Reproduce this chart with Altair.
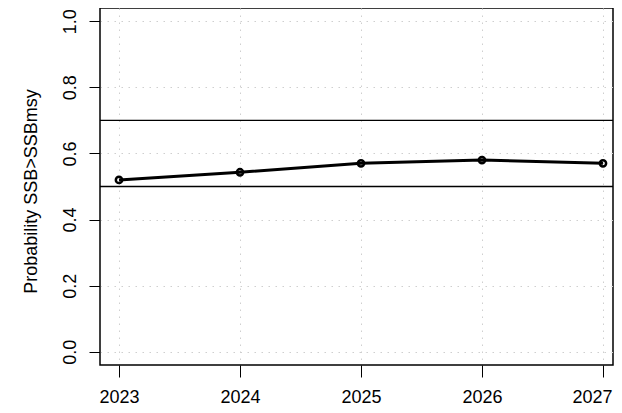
import altair as alt
import pandas as pd

years = [2023, 2024, 2025, 2026, 2027]
prob = [0.52, 0.543, 0.57, 0.58, 0.57]
ref_levels = [0.5, 0.7]
y_ticks = [0.0, 0.2, 0.4, 0.6, 0.8, 1.0]
y_title = "Probability SSB>SSBmsy"

df = pd.DataFrame({"year": years, "prob": prob})
ref = pd.DataFrame({"level": ref_levels})

FONT = "Liberation Sans"

xscale = alt.Scale(domain=[2022.843, 2027.083], nice=False, zero=False)
yscale = alt.Scale(domain=[-0.04, 1.04], nice=False, zero=False)

xaxis = alt.Axis(
    values=years, format="d", title=None, domain=False,
    grid=True, gridColor="#cfcfcf", gridDash=[1.5, 5.5], gridWidth=1,
    tickSize=12, tickColor="black", tickWidth=1,
    labelFont=FONT, labelFontSize=18, labelColor="black",
    labelPadding=11, labelBaseline="top",
    labelFlush=15, labelFlushOffset=9,
)
yaxis = alt.Axis(
    values=y_ticks, format=".1f", title=y_title, domain=False,
    grid=True, gridColor="#cfcfcf", gridDash=[1.5, 5.5], gridWidth=1,
    tickSize=11, tickColor="black", tickWidth=1,
    labelFont=FONT, labelFontSize=18, labelColor="black",
    labelAngle=270, labelAlign="center", labelBaseline="alphabetic",
    labelPadding=14,
    titleFont=FONT, titleFontSize=18, titleFontWeight="normal", titleColor="black",
    titleAngle=270, titleAlign="center", titleBaseline="middle",
    titleX=-69, titleY=183,
)

line = alt.Chart(df).mark_line(color="black", strokeWidth=3).encode(
    x=alt.X("year:Q", scale=xscale, axis=xaxis),
    y=alt.Y("prob:Q", scale=yscale, axis=yaxis),
)
pts = alt.Chart(df).mark_point(
    filled=False, color="black", size=40, strokeWidth=2.5, opacity=1
).encode(
    x=alt.X("year:Q", scale=xscale),
    y=alt.Y("prob:Q", scale=yscale),
)
rules = alt.Chart(ref).mark_rule(color="black", strokeWidth=1.3).encode(
    y=alt.Y("level:Q", scale=yscale),
)

chart = alt.layer(rules, line, pts).properties(
    width=513, height=357,
    background="white",
    autosize=alt.AutoSizeParams(type="none"),
    padding={"left": 92, "top": 0, "right": 1, "bottom": 40},
).configure_view(
    stroke="black", strokeWidth=1.5, fill="white"
)

chart.save("out.html", embed_options={"renderer": "svg", "actions": False})
